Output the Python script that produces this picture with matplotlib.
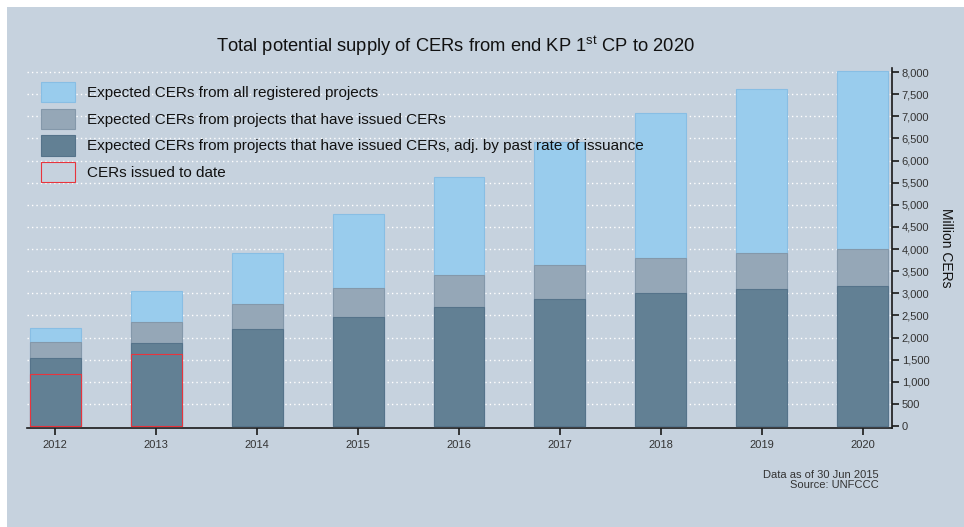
import matplotlib
matplotlib.use('Agg')
import matplotlib.pyplot as plt
from matplotlib.patches import Patch, Rectangle
from matplotlib.ticker import FuncFormatter, MultipleLocator
import numpy as np

plt.rcParams['font.family'] = ['Liberation Sans', 'DejaVu Sans']
plt.rcParams['mathtext.fontset'] = 'custom'
plt.rcParams['mathtext.rm'] = 'Liberation Sans'
plt.rcParams['mathtext.it'] = 'Liberation Sans:italic'
plt.rcParams['mathtext.bf'] = 'Liberation Sans:bold'

# ---- data (million CERs) ----
years = ['2012', '2013', '2014', '2015', '2016', '2017', '2018', '2019', '2020']
all_registered = [2207, 3045, 3910, 4790, 5635, 6425, 7073, 7625, 8020]
issued_projects = [1891, 2358, 2757, 3112, 3412, 3638, 3797, 3905, 4000]
adj_past_rate = [1529, 1883, 2185, 2456, 2689, 2877, 3006, 3096, 3160]
issued_years = ['2012', '2013']
issued_to_date = [1168, 1620]

legend_labels = [
    'Expected CERs from all registered projects',
    'Expected CERs from projects that have issued CERs',
    'Expected CERs from projects that have issued CERs, adj. by past rate of issuance',
    'CERs issued to date',
]

BG = '#C6D2DE'
C_LIGHT = '#99CCED'
C_LIGHT_E = '#88BEE4'
C_GREY = '#95A7B7'
C_GREY_E = '#8498AA'
C_DARK = '#628094'
C_DARK_E = '#55738A'
C_RED = '#E8343C'

fig = plt.figure(figsize=(9.64, 5.27), dpi=100, facecolor='white')
fig.patches.append(Rectangle((7 / 964, 0), 1, (527 - 7) / 527, transform=fig.transFigure,
                             facecolor=BG, edgecolor='none', zorder=-10))

ax = fig.add_axes([27 / 964, 1 - 428 / 527, (892 - 27) / 964, (428 - 67.6) / 527])
ax.set_facecolor('none')

x = np.arange(len(years))
w = 0.505
ax.bar(x, all_registered, width=w, color=C_LIGHT, edgecolor=C_LIGHT_E, linewidth=0.8, zorder=2)
ax.bar(x, issued_projects, width=w, color=C_GREY, edgecolor=C_GREY_E, linewidth=0.8, zorder=3)
ax.bar(x, adj_past_rate, width=w, color=C_DARK, edgecolor=C_DARK_E, linewidth=0.8, zorder=4)
xi = [years.index(y) for y in issued_years]
ax.bar(xi, issued_to_date, width=w, facecolor='none', edgecolor=C_RED, linewidth=0.8, zorder=5)

ax.set_xlim(-0.28, 8.29)
ax.set_ylim(-45, 8100)

ax.yaxis.set_major_locator(MultipleLocator(500))
ax.yaxis.set_major_formatter(FuncFormatter(lambda v, p: f'{int(v):,}'))
ax.yaxis.tick_right()
ax.yaxis.set_label_position('right')
ax.set_xticks(x)
ax.set_xticklabels(years)

for s in ['left', 'top']:
    ax.spines[s].set_visible(False)
for s in ['right', 'bottom']:
    ax.spines[s].set_color('#1a1a1a')
    ax.spines[s].set_linewidth(1.2)

ax.tick_params(axis='both', colors='#1a1a1a', labelcolor='#333333', labelsize=8,
               length=5, width=1.2, direction='out')
ax.tick_params(axis='x', pad=4)
ax.tick_params(axis='y', pad=2)

for v in np.arange(500, 8001, 500):
    ax.axhline(v, color='white', linestyle=(0, (1, 2.2)), linewidth=1.0, zorder=1)

ax.set_ylabel('Million CERs', rotation=-90, fontsize=10, labelpad=17, color='#111111')

fig.text(455 / 964, 1 - 46 / 527, r'Total potential supply of CERs from end KP 1$^{\mathrm{st}}$ CP to 2020',
         ha='center', va='center', fontsize=13.2, color='#111111')

handles = [
    Patch(facecolor=C_LIGHT, edgecolor=C_LIGHT_E, linewidth=0.8),
    Patch(facecolor=C_GREY, edgecolor=C_GREY_E, linewidth=0.8),
    Patch(facecolor=C_DARK, edgecolor=C_DARK_E, linewidth=0.8),
    Patch(facecolor='none', edgecolor=C_RED, linewidth=0.8),
]
leg = fig.legend(handles, legend_labels, loc='upper left',
                 bbox_to_anchor=(41 / 964, 1 - 82 / 527), frameon=False, fontsize=11,
                 handlelength=2.23, handleheight=1.65, labelspacing=0.43,
                 handletextpad=0.77, borderpad=0, borderaxespad=0)
for t in leg.get_texts():
    t.set_color('#111111')

fig.text(879 / 964, 1 - 480 / 527, 'Data as of 30 Jun 2015\nSource: UNFCCC',
         ha='right', va='center', fontsize=8, color='#333333', linespacing=1.1)

fig.savefig('out.png', dpi=100, facecolor='white')
